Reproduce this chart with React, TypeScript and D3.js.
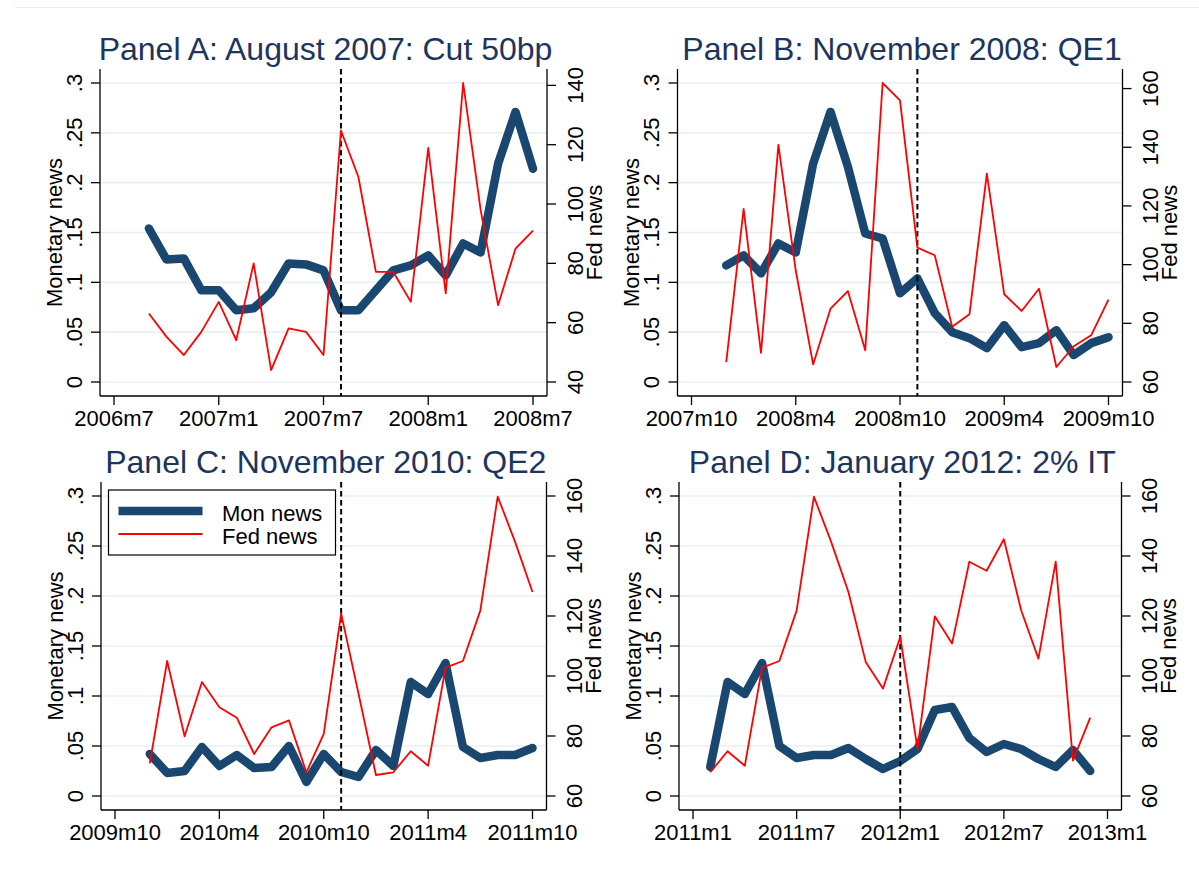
import React from 'react';
import * as d3 from 'd3';

const FONT = '"Liberation Sans", Arial, Helvetica, sans-serif';

// ---- Data ----
const panelTitles = [
  'Panel A: August 2007: Cut 50bp',
  'Panel B: November 2008: QE1',
  'Panel C: November 2010: QE2',
  'Panel D: January 2012: 2% IT',
];
const startMonths = ['2006m9', '2007m12', '2009m12', '2011m2'];
const eventMonths = ['2007m8', '2008m11', '2010m11', '2012m1'];

const xTicksA = ['2006m7', '2007m1', '2007m7', '2008m1', '2008m7'];
const xTicksB = ['2007m10', '2008m4', '2008m10', '2009m4', '2009m10'];
const xTicksC = ['2009m10', '2010m4', '2010m10', '2011m4', '2011m10'];
const xTicksD = ['2011m1', '2011m7', '2012m1', '2012m7', '2013m1'];

const leftTicks = [0, 0.05, 0.1, 0.15, 0.2, 0.25, 0.3];
const leftTickLabels = ['0', '.05', '.1', '.15', '.2', '.25', '.3'];
const rightTicksA = [40, 60, 80, 100, 120, 140];
const rightTicksBCD = [60, 80, 100, 120, 140, 160];

const monA = [0.154, 0.123, 0.124, 0.092, 0.092, 0.072, 0.074, 0.09, 0.119, 0.118, 0.112, 0.072, 0.072, 0.092, 0.112, 0.117, 0.127, 0.107, 0.139, 0.13, 0.219, 0.271, 0.214];
const fedA = [63.1, 55.3, 49.1, 56.9, 67.0, 54.1, 80.0, 44.0, 58.1, 56.9, 49.1, 124.8, 109.1, 77.1, 77.1, 67.0, 118.9, 69.9, 140.8, 98.0, 65.9, 85.0, 91.0];

const monB = [0.117, 0.127, 0.109, 0.139, 0.13, 0.219, 0.271, 0.216, 0.149, 0.144, 0.089, 0.104, 0.069, 0.05, 0.044, 0.034, 0.057, 0.035, 0.039, 0.052, 0.027, 0.039, 0.045];
const fedB = [66.8, 119.0, 69.9, 140.8, 98.0, 66.0, 85.0, 91.0, 70.8, 161.9, 156.0, 105.8, 103.2, 78.8, 83.1, 131.0, 89.9, 84.2, 91.8, 65.1, 72.2, 75.9, 88.1];

const monC = [0.042, 0.023, 0.025, 0.049, 0.03, 0.041, 0.028, 0.029, 0.05, 0.014, 0.042, 0.024, 0.019, 0.046, 0.03, 0.114, 0.102, 0.133, 0.049, 0.038, 0.041, 0.041, 0.048];
const fedC = [70.9, 105.0, 79.9, 98.0, 89.6, 86.1, 74.0, 82.9, 85.2, 67.9, 80.7, 120.8, 94.1, 67.0, 67.9, 74.9, 70.1, 102.8, 105.0, 121.8, 159.8, 144.7, 128.0];

const monD = [0.029, 0.114, 0.102, 0.133, 0.05, 0.038, 0.041, 0.041, 0.048, 0.037, 0.027, 0.035, 0.047, 0.086, 0.089, 0.058, 0.044, 0.052, 0.047, 0.037, 0.029, 0.046, 0.025];
const fedD = [67.9, 74.9, 70.1, 102.8, 105.0, 121.8, 159.8, 144.7, 128.0, 104.7, 95.8, 113.0, 75.7, 119.9, 110.8, 138.1, 135.1, 145.6, 121.9, 105.8, 138.1, 71.8, 86.1];

const legendLabels = ['Mon news', 'Fed news'];

// ---- Styling / layout ----
const NAVY = '#1a476f';
const RED = '#ff0000';
const TITLE_COLOR = '#1c355e';
const GRID = '#e9f0f3';

const parseM = (s: string) => {
  const [y, m] = s.split('m').map(Number);
  return y * 12 + (m - 1);
};

type Box = { l: number; r: number; t: number; b: number };

const boxes: Box[] = [
  { l: 100, r: 547, t: 69, b: 396 },
  { l: 677.5, r: 1122.5, t: 69, b: 396 },
  { l: 101, r: 546.5, t: 482, b: 810 },
  { l: 679, r: 1121.5, t: 482, b: 810 },
];

const PADX = 14;
const PADY = 14;

type PanelProps = {
  box: Box;
  title: string;
  xTicks: string[];
  start: string;
  mon: number[];
  fed: number[];
  rightTicks: number[];
  event: string;
  legend?: boolean;
};

function Panel({ box, title, xTicks, start, mon, fed, rightTicks, event, legend }: PanelProps) {
  const { l, r, t, b } = box;
  const x = d3
    .scaleLinear()
    .domain([parseM(xTicks[0]), parseM(xTicks[xTicks.length - 1])])
    .range([l + PADX, r - PADX]);
  const yL = d3.scaleLinear().domain([0, 0.3]).range([b - PADY, t + PADY]);
  const fedMin = Math.min(rightTicks[0], d3.min(fed) as number);
  const fedMax = Math.max(rightTicks[rightTicks.length - 1], d3.max(fed) as number);
  const yR = d3.scaleLinear().domain([fedMin, fedMax]).range([b - PADY, t + PADY]);
  const s0 = parseM(start);

  const monLine = d3
    .line<number>()
    .x((_, i) => x(s0 + i))
    .y((d) => yL(d));
  const fedLine = d3
    .line<number>()
    .x((_, i) => x(s0 + i))
    .y((d) => yR(d));

  const cy = (t + b) / 2;
  const ex = x(parseM(event));
  const fs = 22;

  return (
    <g>
      <text
        x={(l + r) / 2 + 2}
        y={t - 9}
        textAnchor="middle"
        fontSize={32}
        fill={TITLE_COLOR}
        fontFamily={FONT}
      >
        {title}
      </text>
      {leftTicks.map((v) => (
        <line key={'g' + v} x1={l} x2={r} y1={yL(v)} y2={yL(v)} stroke={GRID} strokeWidth={1.6} />
      ))}
      {/* axes */}
      <line x1={l} x2={l} y1={t} y2={b} stroke="#000" strokeWidth={1.3} />
      <line x1={r} x2={r} y1={t} y2={b} stroke="#000" strokeWidth={1.3} />
      <line x1={l} x2={r} y1={b} y2={b} stroke="#000" strokeWidth={1.3} />
      {/* left ticks */}
      {leftTicks.map((v, i) => (
        <g key={'lt' + v}>
          <line x1={l - 9} x2={l} y1={yL(v)} y2={yL(v)} stroke="#000" strokeWidth={1.3} />
          <text
            transform={`translate(${l - 26},${yL(v)}) rotate(-90)`}
            dy="0.36em"
            textAnchor="middle"
            fontSize={fs}
            fontFamily={FONT}
            fill="#000"
          >
            {leftTickLabels[i]}
          </text>
        </g>
      ))}
      <text
        transform={`translate(${l - 46},${cy}) rotate(-90)`}
        dy="0.36em"
        textAnchor="middle"
        fontSize={fs}
        fontFamily={FONT}
        fill="#000"
      >
        Monetary news
      </text>
      {/* right ticks */}
      {rightTicks.map((v) => (
        <g key={'rt' + v}>
          <line x1={r} x2={r + 9} y1={yR(v)} y2={yR(v)} stroke="#000" strokeWidth={1.3} />
          <text
            transform={`translate(${r + 28},${yR(v)}) rotate(-90)`}
            dy="0.36em"
            textAnchor="middle"
            fontSize={fs}
            fontFamily={FONT}
            fill="#000"
          >
            {v}
          </text>
        </g>
      ))}
      <text
        transform={`translate(${r + 47},${cy}) rotate(-90)`}
        dy="0.36em"
        textAnchor="middle"
        fontSize={fs}
        fontFamily={FONT}
        fill="#000"
      >
        Fed news
      </text>
      {/* bottom ticks */}
      {xTicks.map((s) => (
        <g key={'bt' + s}>
          <line x1={x(parseM(s))} x2={x(parseM(s))} y1={b} y2={b + 9} stroke="#000" strokeWidth={1.3} />
          <text
            x={x(parseM(s))}
            y={b + 30}
            textAnchor="middle"
            fontSize={fs}
            fontFamily={FONT}
            fill="#000"
          >
            {s}
          </text>
        </g>
      ))}
      {/* series */}
      <path
        d={monLine(mon) || ''}
        fill="none"
        stroke={NAVY}
        strokeWidth={8.5}
        strokeLinejoin="round"
        strokeLinecap="round"
      />
      <line x1={ex} x2={ex} y1={t} y2={b} stroke="#000" strokeWidth={2} strokeDasharray="5.5,3.5" />
      <path d={fedLine(fed) || ''} fill="none" stroke={RED} strokeWidth={1.8} strokeLinejoin="round" />
      {legend && (
        <g>
          <rect x={l + 7.5} y={t + 8} width={227} height={65} fill="#fff" stroke="#000" strokeWidth={1.2} />
          <line x1={l + 17.5} x2={l + 101.5} y1={t + 29} y2={t + 29} stroke={NAVY} strokeWidth={8.5} />
          <line x1={l + 17.5} x2={l + 101.5} y1={t + 52} y2={t + 52} stroke={RED} strokeWidth={1.8} />
          <text x={l + 121} y={t + 38.5} fontSize={22} fontFamily={FONT} fill="#000">
            {legendLabels[0]}
          </text>
          <text x={l + 121} y={t + 61.5} fontSize={22} fontFamily={FONT} fill="#000">
            {legendLabels[1]}
          </text>
        </g>
      )}
    </g>
  );
}

export default function App() {
  const panels = [
    { xTicks: xTicksA, mon: monA, fed: fedA, rightTicks: rightTicksA },
    { xTicks: xTicksB, mon: monB, fed: fedB, rightTicks: rightTicksBCD },
    { xTicks: xTicksC, mon: monC, fed: fedC, rightTicks: rightTicksBCD },
    { xTicks: xTicksD, mon: monD, fed: fedD, rightTicks: rightTicksBCD },
  ];
  return (
    <svg
      width={1199}
      height={871}
      style={{ position: 'absolute', left: 0, top: 0, background: '#fff' }}
      xmlns="http://www.w3.org/2000/svg"
    >
      <rect x={0} y={0} width={1199} height={871} fill="#fff" />
      <line x1={15} x2={1199} y1={7.5} y2={7.5} stroke="#ebebeb" strokeWidth={1} />
      {panels.map((p, i) => (
        <Panel
          key={i}
          box={boxes[i]}
          title={panelTitles[i]}
          xTicks={p.xTicks}
          start={startMonths[i]}
          mon={p.mon}
          fed={p.fed}
          rightTicks={p.rightTicks}
          event={eventMonths[i]}
          legend={i === 2}
        />
      ))}
    </svg>
  );
}
